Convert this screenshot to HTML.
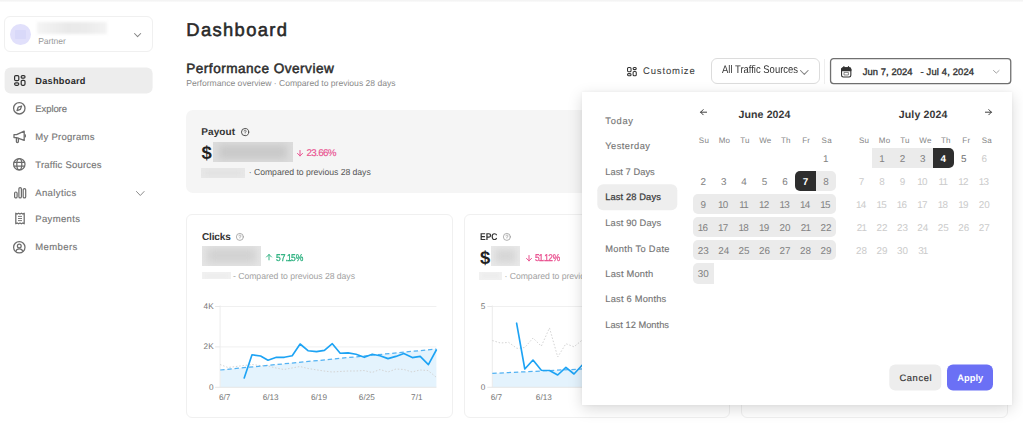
<!DOCTYPE html>
<html><head><meta charset="utf-8"><title>Dashboard</title>
<style>
html,body{margin:0;padding:0;background:#fff;}
body{width:1023px;height:424px;position:relative;overflow:hidden;font-family:'Liberation Sans', sans-serif;text-rendering:geometricPrecision;}
.t{position:absolute;white-space:pre;font-family:'Liberation Sans', sans-serif;}
i.n1{font-style:normal;margin:0 -0.08em 0 -0.1em}
.a{position:absolute;box-sizing:border-box;}
svg{position:absolute;overflow:visible;}

.card{position:absolute;box-sizing:border-box;border:1px solid #f0f0f0;border-radius:6px;background:#fff;}
.blur{position:absolute;filter:blur(1.6px);}
.d{position:absolute;width:20.45px;height:20.4px;line-height:20.4px;text-align:center;font-size:9.9px;color:#828282;font-family:"Liberation Sans",sans-serif;padding-top:1.7px;box-sizing:border-box;}
.d i{font-style:normal;margin:0 -0.75px 0 -0.95px;}
.wd{position:absolute;width:20.45px;height:12px;line-height:12px;text-align:center;font-size:8px;letter-spacing:0.25px;color:#858585;font-family:"Liberation Sans",sans-serif;}
.rg{position:absolute;height:20.4px;background:#ebebeb;}
.sel{position:absolute;height:20.4px;width:20.6px;background:#2e2e2e;}
.ax{position:absolute;font-size:8.2px;line-height:10px;color:#767676;font-family:"Liberation Sans",sans-serif;white-space:pre;}

</style></head><body>
<div class="a" style="left:0;top:0;width:1023px;height:2px;background:linear-gradient(#f3f3f3,#f5f5f5 50%,#fcfcfc)"></div><div class="a" style="left:4px;top:16px;width:149px;height:36px;border:1px solid #f0f0f0;border-radius:6px;background:#fff"></div><div class="a" style="left:10px;top:24px;width:20.8px;height:20.8px;border-radius:50%;background:#e1e0fb"></div><div class="a" style="left:14.6px;top:29.7px;width:11.6px;height:9.2px;border-radius:1px;background:#d9d9f9;filter:blur(0.7px)"></div><div class="blur" style="left:36.8px;top:22.2px;width:70.4px;height:11.8px;background:linear-gradient(90deg,#f4f4f4,#e9e9e9 45%,#ebebeb 70%,#f3f3f3);"></div><svg style="left:133.8px;top:33.0px" width="7.2" height="4.1" viewBox="0 0 7.2 4.1" fill="none" stroke="#858585" stroke-width="1.05" stroke-linecap="round" stroke-linejoin="round"><path d="M0.5 0.5 L3.6 3.5999999999999996 L6.7 0.5"/></svg><div class="a" style="left:4px;top:67px;width:148.2px;height:25.5px;border-radius:6px;background:#ededed;transform:translate(0.6px,0.5px)"></div><svg style="left:14.2px;top:74.9px" width="11.6" height="11.6" viewBox="0 0 11.6 11.6" fill="none" stroke="#303030" stroke-width="1.2"><rect x="0.60" y="0.60" width="4.20" height="5.00" rx="1.20"/><rect x="7.20" y="0.60" width="3.80" height="2.50" rx="1.20"/><rect x="0.60" y="7.80" width="4.20" height="2.50" rx="1.20"/><rect x="7.20" y="5.30" width="3.80" height="5.00" rx="1.20"/></svg><svg style="left:13.2px;top:102.2px" width="12.6" height="12.6" viewBox="0 0 12.6 12.6" fill="none" stroke="#6c6c6c" stroke-width="1.3" stroke-linejoin="round"><circle cx="6.3" cy="6.3" r="5.7"/><path d="M8.6 4.0 L7.4 7.4 L4.0 8.6 L5.2 5.2 Z"/></svg><svg style="left:13px;top:130px" width="13" height="13.5" viewBox="0 0 13 13.5" fill="none" stroke="#6c6c6c" stroke-width="1.3" stroke-linejoin="round" stroke-linecap="round"><path d="M1 4.6 h2.6 L11.2 1.2 V10.4 L3.6 7.6 H1 Z"/><path d="M3.4 7.8 V11.6 a1 1 0 0 0 2 0 V8.5"/><path d="M12.3 4.8 v2"/></svg><svg style="left:13.2px;top:158.2px" width="12.6" height="12.6" viewBox="0 0 12.6 12.6" fill="none" stroke="#6c6c6c" stroke-width="1.25"><circle cx="6.3" cy="6.3" r="5.7"/><ellipse cx="6.3" cy="6.3" rx="2.5" ry="5.7"/><path d="M0.8 4.5 H11.8 M0.8 8.1 H11.8"/></svg><svg style="left:13.7px;top:187.1px" width="12.4" height="12" viewBox="0 0 12.4 12" fill="none" stroke="#6c6c6c" stroke-width="1.2"><rect x="0.6" y="5.0" width="2.5" height="5.9" rx="1.25"/><rect x="4.9" y="0.6" width="2.5" height="10.3" rx="1.25"/><rect x="9.2" y="1.6" width="2.5" height="9.3" rx="1.25"/></svg><svg style="left:135.8px;top:191px" width="8.6" height="5" viewBox="0 0 8.6 5" fill="none" stroke="#8a8a8a" stroke-width="1" stroke-linecap="round" stroke-linejoin="round"><path d="M0.5 0.5 L4.3 4.5 L8.1 0.5"/></svg><svg style="left:14.8px;top:211.8px" width="10" height="13" viewBox="0 0 10 13" fill="none" stroke="#6c6c6c" stroke-width="1.25" stroke-linejoin="round"><path d="M0.8 1.2 l1.4 0.8 1.4 -0.8 1.4 0.8 1.4 -0.8 1.4 0.8 1.4 -0.8 V11.8 l-1.4 -0.8 -1.4 0.8 -1.4 -0.8 -1.4 0.8 -1.4 -0.8 -1.4 0.8 Z"/><path d="M3 4.4 H7 M3 6.5 H7 M3 8.6 H7" stroke-width="0.9"/></svg><svg style="left:13.2px;top:240.5px" width="12.6" height="12.6" viewBox="0 0 12.6 12.6" fill="none" stroke="#6c6c6c" stroke-width="1.25"><circle cx="6.3" cy="6.3" r="5.7"/><circle cx="6.3" cy="5.1" r="1.9"/><path d="M2.8 10.6 a3.6 3.6 0 0 1 7 0"/></svg><div class="a" style="left:185.8px;top:110px;width:823px;height:83.2px;border-radius:7px;background:#f5f5f5"></div><svg style="left:240.7px;top:127.9px" width="8.2" height="8.2" viewBox="0 0 8.2 8.2" fill="none" stroke="#484848" stroke-width="0.95" stroke-linecap="round"><circle cx="4.1" cy="4.1" r="3.6249999999999996"/><path d="M3.0999999999999996 3.1999999999999997 a1.05 1.05 0 1 1 1.0 1.05 v0.7" stroke-width="0.65"/><circle cx="4.1" cy="6.0" r="0.3" fill="#484848" stroke="none"/></svg><div class="a" style="left:213.4px;top:142.1px;width:79.6px;height:19.6px;background:#dcdcdc;overflow:hidden"><div class="a" style="left:6px;top:3px;right:6px;bottom:3px;background:#c9c9c9;filter:blur(3.6px)"></div></div><div class="a" style="left:201.2px;top:168.1px;width:43.8px;height:10.2px;background:#e8e8e8;overflow:hidden"><div class="a" style="left:4px;top:2px;right:4px;bottom:2px;background:#e2e2e2;filter:blur(2px)"></div></div><div class="card" style="left:186.2px;top:214px;width:266.8px;height:204px"></div><div class="card" style="left:463.6px;top:214px;width:266.8px;height:204px"></div><div class="card" style="left:741.2px;top:214px;width:266.8px;height:204px"></div><svg style="left:236.2px;top:232.8px" width="7.8" height="7.8" viewBox="0 0 7.8 7.8" fill="none" stroke="#9a9a9a" stroke-width="0.8" stroke-linecap="round"><circle cx="3.9" cy="3.9" r="3.5"/><path d="M2.9 3.0 a1.05 1.05 0 1 1 1.0 1.05 v0.7" stroke-width="0.65"/><circle cx="3.9" cy="5.8" r="0.3" fill="#9a9a9a" stroke="none"/></svg><svg style="left:502.6px;top:232.8px" width="7.8" height="7.8" viewBox="0 0 7.8 7.8" fill="none" stroke="#9a9a9a" stroke-width="0.8" stroke-linecap="round"><circle cx="3.9" cy="3.9" r="3.5"/><path d="M2.9 3.0 a1.05 1.05 0 1 1 1.0 1.05 v0.7" stroke-width="0.65"/><circle cx="3.9" cy="5.8" r="0.3" fill="#9a9a9a" stroke="none"/></svg><div class="a" style="left:202.0px;top:245.8px;width:59.3px;height:20.2px;background:#e5e5e5;overflow:hidden"><div class="a" style="left:5px;top:2.5px;right:5px;bottom:2.5px;background:#d1d1d1;filter:blur(4px)"></div></div><div class="a" style="left:202.0px;top:272.0px;width:28.6px;height:7.4px;background:#f1f1f1;overflow:hidden"><div class="a" style="left:3px;top:1.5px;right:3px;bottom:1.5px;background:#ededed;filter:blur(1.5px)"></div></div><div class="a" style="left:491.3px;top:246.0px;width:28.7px;height:19.5px;background:#e9e9e9;overflow:hidden"><div class="a" style="left:4px;top:2.5px;right:4px;bottom:2.5px;background:#d6d6d6;filter:blur(3.6px)"></div></div><div class="a" style="left:479.3px;top:271.8px;width:23.2px;height:8px;background:#f1f1f1;overflow:hidden"><div class="a" style="left:3px;top:1.5px;right:3px;bottom:1.5px;background:#ededed;filter:blur(1.5px)"></div></div><svg style="left:296.9px;top:149.70000000000002px" width="6" height="6.4" viewBox="0 0 6 6.4" fill="none" stroke="#e8488a" stroke-width="0.95" stroke-linecap="round" stroke-linejoin="round"><path d="M3 0.5 V5.9 M0.5 3.4 L3 5.9 L5.5 3.4"/></svg><svg style="left:266.3px;top:254.2px" width="6" height="6.4" viewBox="0 0 6 6.4" fill="none" stroke="#2bb07f" stroke-width="0.95" stroke-linecap="round" stroke-linejoin="round"><path d="M3 0.5 V5.9 M0.5 3.4 L3 5.9 L5.5 3.4" transform="rotate(180 3 3.2)"/></svg><svg style="left:525.5px;top:254.5px" width="6" height="6.4" viewBox="0 0 6 6.4" fill="none" stroke="#e8488a" stroke-width="0.95" stroke-linecap="round" stroke-linejoin="round"><path d="M3 0.5 V5.9 M0.5 3.4 L3 5.9 L5.5 3.4"/></svg><svg style="left:0;top:0" width="1023" height="424" viewBox="0 0 1023 424" fill="none"><path d="M220.1 306.5 H436.4" stroke="#f0f0f0" stroke-width="1"/><path d="M220.1 346.9 H436.4" stroke="#f0f0f0" stroke-width="1"/><path d="M220.2 370 L436.4 349 L436.4 387.3 L220.2 387.3 Z" fill="#e4f3fd"/><path d="M220.1 305.5 V387.3" stroke="#ececec" stroke-width="1"/><path d="M215.1 387.3 H436.4" stroke="#e6e6e6" stroke-width="1"/><path d="M215.1 306.5 H220.1" stroke="#e8e8e8" stroke-width="1"/><path d="M215.1 346.9 H220.1" stroke="#e8e8e8" stroke-width="1"/><path d="M220.0 364.5 L228.0 367.5 L236.0 366.5 L244.0 365.5 L252.0 364.5 L260.0 365.5 L268.0 366.0 L276.0 368.0 L284.0 369.5 L292.0 368.0 L300.0 366.5 L308.0 368.5 L316.0 369.8 L324.0 371.0 L332.0 372.0 L340.0 371.5 L348.0 371.0 L356.0 371.0 L364.0 370.5 L372.0 372.5 L380.0 369.5 L388.0 372.0 L396.0 369.0 L404.0 369.5 L412.0 372.0 L420.0 370.0 L428.0 370.5 L436.0 377.0" stroke="#d4d4d4" stroke-width="1" stroke-dasharray="1.5 1.8"/><path d="M220.2 370 L436.4 349" stroke="#52b2f3" stroke-width="1.25" stroke-dasharray="4.4 2.8"/><path d="M244.2 377.9 L252.0 354.8 L260.6 356.0 L268.0 360.2 L276.4 357.3 L284.3 357.3 L292.2 355.7 L300.1 344.0 L308.0 350.7 L316.5 351.6 L324.4 350.4 L332.3 343.7 L340.2 353.2 L348.1 352.9 L356.0 354.2 L364.3 357.3 L372.2 354.2 L380.0 355.7 L388.0 358.6 L395.9 356.4 L403.8 353.5 L412.3 357.6 L420.2 356.4 L428.4 364.6 L436.3 350.0" stroke="#1da3f4" stroke-width="1.65" stroke-linejoin="round" stroke-linecap="round"/></svg><span class="ax" style="right:809.4px;top:301.5px">4K</span><span class="ax" style="right:809.4px;top:342.29999999999995px">2K</span><span class="ax" style="right:809.4px;top:382.9px">0</span><span class="ax" style="left:209.7px;width:30px;text-align:center;top:392.79999999999995px">6/7</span><span class="ax" style="left:255.7px;width:30px;text-align:center;top:392.79999999999995px">6/13</span><span class="ax" style="left:304px;width:30px;text-align:center;top:392.79999999999995px">6/19</span><span class="ax" style="left:351.8px;width:30px;text-align:center;top:392.79999999999995px">6/25</span><span class="ax" style="left:401.8px;width:30px;text-align:center;top:392.79999999999995px">7/1</span><svg style="left:0;top:0" width="1023" height="424" viewBox="0 0 1023 424" fill="none"><path d="M492.3 306.5 H713.8" stroke="#f0f0f0" stroke-width="1"/><path d="M492.3 373.4 L713.8 362.5 L713.8 387.3 L492.3 387.3 Z" fill="#e4f3fd"/><path d="M492.3 305.5 V387.3" stroke="#ececec" stroke-width="1"/><path d="M487.3 387.3 H713.8" stroke="#e6e6e6" stroke-width="1"/><path d="M487.3 306.5 H492.3" stroke="#e8e8e8" stroke-width="1"/><path d="M492.3 340.5 L500.5 343.0 L508.7 342.4 L516.9 348.4 L524.8 347.5 L533.0 338.0 L541.3 346.2 L549.5 327.9 L557.7 357.0 L565.9 343.7 L574.0 346.8 L582.3 340.0 L590.5 345.0 L600.0 342.0 L610.0 348.0 L620.0 340.0 L640.0 345.0 L660.0 341.0 L680.0 346.0 L713.6 342.0" stroke="#d4d4d4" stroke-width="1" stroke-dasharray="1.5 1.8"/><path d="M492.3 373.4 L713.8 362.5" stroke="#52b2f3" stroke-width="1.25" stroke-dasharray="4.4 2.8"/><path d="M516.6 323.2 L524.8 369.0 L533.0 360.0 L541.3 370.2 L549.5 370.5 L557.7 375.0 L565.9 367.4 L574.0 374.0 L582.3 365.0 L590.5 368.0 L598.7 372.0 L607.0 366.0 L615.0 370.0 L623.4 367.0 L631.6 371.0 L640.0 365.0 L648.0 369.0 L656.2 366.0 L664.4 370.0 L672.6 364.0 L680.8 368.0 L689.0 366.0 L697.2 369.0 L705.4 363.0 L713.6 366.0" stroke="#1da3f4" stroke-width="1.65" stroke-linejoin="round" stroke-linecap="round"/></svg><span class="ax" style="right:537.6px;top:301.5px">5</span><span class="ax" style="right:537.6px;top:382.9px">0</span><span class="ax" style="left:481.4px;width:30px;text-align:center;top:392.79999999999995px">6/7</span><span class="ax" style="left:528.8px;width:30px;text-align:center;top:392.79999999999995px">6/13</span><span class="ax" style="left:578px;width:30px;text-align:center;top:392.79999999999995px">6/19</span><span class="ax" style="left:627px;width:30px;text-align:center;top:392.79999999999995px">6/25</span><span class="ax" style="left:678px;width:30px;text-align:center;top:392.79999999999995px">7/1</span><svg style="left:627.3px;top:66.5px" width="9.8" height="9.8" viewBox="0 0 9.8 9.8" fill="none" stroke="#333" stroke-width="1.05"><rect x="0.53" y="0.53" width="3.51" height="4.19" rx="1.01"/><rect x="6.10" y="0.53" width="3.17" height="2.08" rx="1.01"/><rect x="0.53" y="6.61" width="3.51" height="2.08" rx="1.01"/><rect x="6.10" y="4.50" width="3.17" height="4.19" rx="1.01"/></svg><div class="a" style="left:711px;top:58px;width:109px;height:26px;border:1px solid #dcdcdc;border-radius:6px;background:#fff"></div><svg style="left:800.2px;top:69.5px" width="8.6" height="4.9" viewBox="0 0 8.6 4.9" fill="none" stroke="#858585" stroke-width="1.05" stroke-linecap="round" stroke-linejoin="round"><path d="M0.5 0.5 L4.3 4.4 L8.1 0.5"/></svg><div class="a" style="left:824.3px;top:58.5px;width:1px;height:25px;background:#eeeeee"></div><svg style="left:829px;top:57px" width="184" height="28" viewBox="0 0 184 28" fill="none"><rect x="1.55" y="1.65" width="180.2" height="24.9" rx="3" fill="#fff" stroke="#707070" stroke-width="1.3"/></svg><svg style="left:841.3px;top:65.5px" width="10.4" height="11.6" viewBox="0 0 10.4 11.6" fill="none" stroke="#333" stroke-width="1.1" stroke-linejoin="round"><rect x="0.55" y="1.9" width="9.3" height="9.1" rx="1.7"/><path d="M0.55 4.6 V3.6 a1.7 1.7 0 0 1 1.7 -1.7 H8.15 a1.7 1.7 0 0 1 1.7 1.7 V4.6 Z" fill="#333"/><path d="M2.9 0.55 V2.2 M7.5 0.55 V2.2" stroke-linecap="round" stroke-width="1.2"/><rect x="3.0" y="6.4" width="4.4" height="2.6" stroke-width="0.7" stroke="#555"/></svg><svg style="left:993.2px;top:69.6px" width="6.6" height="3.6" viewBox="0 0 6.6 3.6" fill="none" stroke="#999" stroke-width="0.9" stroke-linecap="round" stroke-linejoin="round"><path d="M0.5 0.5 L3.3 3.1 L6.1 0.5"/></svg>
<span class="t" style="left:38.25px;top:34.80px;font-size:8.6px;line-height:13px;color:#9a9a9a;letter-spacing:-0.115px;">Partner</span><span class="t" style="left:35.25px;top:73.60px;font-size:9.2px;line-height:14px;color:#2b2b2b;letter-spacing:0.281px;font-weight:700;">Dashboard</span><span class="t" style="left:35.25px;top:102.60px;font-size:9.5px;line-height:14px;color:#767676;letter-spacing:-0.078px;-webkit-text-stroke:0.15px #767676;">Explore</span><span class="t" style="left:35.25px;top:130.70px;font-size:9.5px;line-height:14px;color:#767676;letter-spacing:0.277px;-webkit-text-stroke:0.15px #767676;">My Programs</span><span class="t" style="left:35.25px;top:158.50px;font-size:9.5px;line-height:14px;color:#767676;letter-spacing:0.206px;-webkit-text-stroke:0.15px #767676;">Traffic Sources</span><span class="t" style="left:35.25px;top:186.80px;font-size:9.5px;line-height:14px;color:#767676;letter-spacing:0.373px;-webkit-text-stroke:0.15px #767676;">Analytics</span><span class="t" style="left:35.25px;top:212.60px;font-size:9.5px;line-height:14px;color:#767676;letter-spacing:0.357px;-webkit-text-stroke:0.15px #767676;">Payments</span><span class="t" style="left:35.25px;top:241.00px;font-size:9.5px;line-height:14px;color:#767676;letter-spacing:0.401px;-webkit-text-stroke:0.15px #767676;">Members</span><span class="t" style="left:186.25px;top:16.80px;font-size:18.4px;line-height:26px;color:#2a2a2a;letter-spacing:1.348px;-webkit-text-stroke:0.55px #2a2a2a;">Dashboard</span><span class="t" style="left:186.25px;top:58.70px;font-size:13.6px;line-height:20px;color:#2d2d2d;letter-spacing:0.487px;-webkit-text-stroke:0.5px #2d2d2d;">Performance Overview</span><span class="t" style="left:186.25px;top:77.10px;font-size:8.6px;line-height:13px;color:#8a8a8a;letter-spacing:-0.018px;">Performance overview · Compared to previous 28 days</span><span class="t" style="left:201.25px;top:125.10px;font-size:10px;line-height:15px;color:#333;letter-spacing:0.081px;font-weight:700;">Payout</span><span class="t" style="left:201.50px;top:140.10px;font-size:18.5px;line-height:26px;color:#222;letter-spacing:-0.297px;font-weight:700;">$</span><span class="t" style="left:306.40px;top:145.80px;font-size:9.8px;line-height:15px;color:#e9508f;letter-spacing:-0.607px;-webkit-text-stroke:0.15px #e9508f;">23.66%</span><span class="t" style="left:248.75px;top:166.10px;font-size:8.7px;line-height:13px;color:#555;letter-spacing:-0.056px;">· Compared to previous 28 days</span><span class="t" style="left:202.00px;top:229.90px;font-size:10px;line-height:15px;color:#333;letter-spacing:-0.144px;font-weight:700;">Clicks</span><span class="t" style="left:275.60px;top:250.50px;font-size:9.8px;line-height:15px;color:#2bb07f;letter-spacing:0.000px;-webkit-text-stroke:0.3px #2bb07f;transform:scaleX(0.8698);transform-origin:0 50%;">57.<i class="n1">1</i>5%</span><span class="t" style="left:233.00px;top:269.80px;font-size:8.7px;line-height:13px;color:#a2a2a2;letter-spacing:-0.056px;">- Compared to previous 28 days</span><span class="t" style="left:479.50px;top:229.90px;font-size:9.8px;line-height:15px;color:#333;letter-spacing:0.000px;font-weight:700;transform:scaleX(0.8682);transform-origin:0 50%;">EPC</span><span class="t" style="left:480.00px;top:245.00px;font-size:18.4px;line-height:26px;color:#222;letter-spacing:-0.734px;font-weight:700;">$</span><span class="t" style="left:534.80px;top:250.70px;font-size:9.8px;line-height:15px;color:#e9508f;letter-spacing:0.000px;-webkit-text-stroke:0.3px #e9508f;transform:scaleX(0.8466);transform-origin:0 50%;">5<i class="n1">1</i>.<i class="n1">1</i>2%</span><span class="t" style="left:504.50px;top:269.80px;font-size:8.7px;line-height:13px;color:#a2a2a2;letter-spacing:-0.056px;">· Compared to previous 28 days</span><span class="t" style="left:643.00px;top:65.10px;font-size:9.5px;line-height:14px;color:#3a3a3a;letter-spacing:0.859px;-webkit-text-stroke:0.05px #3a3a3a;">Customize</span><span class="t" style="left:722.00px;top:62.10px;font-size:11px;line-height:16px;color:#333;letter-spacing:0.000px;transform:scaleX(0.8592);transform-origin:0 50%;">All Traffic Sources</span><span class="t" style="left:862.70px;top:65.30px;font-size:9.4px;line-height:14px;color:#333;letter-spacing:0.080px;-webkit-text-stroke:0.35px #333;">Jun 7, 2024</span><span class="t" style="left:920.50px;top:65.30px;font-size:9.4px;line-height:14px;color:#333;letter-spacing:0.158px;-webkit-text-stroke:0.35px #333;">- Jul 4, 2024</span>

<div class="a" style="left:582.3px;top:92.3px;width:430.2px;height:313.2px;background:#fff;box-shadow:0 4px 14px rgba(0,0,0,0.15),0 0 3px rgba(0,0,0,0.05)"></div><div class="a" style="left:597px;top:184px;width:80.4px;height:25.6px;border-radius:6px;background:#eeeeee;transform:translate(0.3px,0.3px)"></div>
<span class="t" style="left:605.25px;top:113.90px;font-size:9.3px;line-height:14px;color:#747474;letter-spacing:0.734px;-webkit-text-stroke:0.13px #747474;">Today</span><span class="t" style="left:605.25px;top:139.00px;font-size:9.3px;line-height:14px;color:#747474;letter-spacing:0.467px;-webkit-text-stroke:0.13px #747474;">Yesterday</span><span class="t" style="left:605.25px;top:164.80px;font-size:9.3px;line-height:14px;color:#747474;letter-spacing:0.041px;-webkit-text-stroke:0.13px #747474;">Last 7 Days</span><span class="t" style="left:605.25px;top:190.20px;font-size:9.3px;line-height:14px;color:#3c3c3c;letter-spacing:0.117px;-webkit-text-stroke:0.25px #3c3c3c;">Last 28 Days</span><span class="t" style="left:605.25px;top:216.00px;font-size:9.3px;line-height:14px;color:#747474;letter-spacing:0.158px;-webkit-text-stroke:0.13px #747474;">Last 90 Days</span><span class="t" style="left:605.25px;top:241.50px;font-size:9.3px;line-height:14px;color:#747474;letter-spacing:0.329px;-webkit-text-stroke:0.13px #747474;">Month To Date</span><span class="t" style="left:605.25px;top:266.80px;font-size:9.3px;line-height:14px;color:#747474;letter-spacing:0.222px;-webkit-text-stroke:0.13px #747474;">Last Month</span><span class="t" style="left:605.25px;top:292.30px;font-size:9.3px;line-height:14px;color:#747474;letter-spacing:0.216px;-webkit-text-stroke:0.13px #747474;">Last 6 Months</span><span class="t" style="left:605.25px;top:318.00px;font-size:9.3px;line-height:14px;color:#747474;letter-spacing:0.013px;-webkit-text-stroke:0.13px #747474;">Last 12 Months</span><span class="t" style="left:738.50px;top:106.60px;font-size:10.6px;line-height:16px;color:#383838;letter-spacing:0.094px;font-weight:700;">June 2024</span><span class="t" style="left:898.75px;top:106.60px;font-size:10.6px;line-height:16px;color:#383838;letter-spacing:0.129px;font-weight:700;">July 2024</span>
<svg style="left:699.6px;top:109.3px" width="7" height="6.4" viewBox="0 0 7 6.4" fill="none" stroke="#333" stroke-width="0.95" stroke-linecap="round" stroke-linejoin="round"><path d="M6.6 3.2 H0.6 M3.2 0.6 L0.6 3.2 L3.2 5.8"/></svg><svg style="left:984.7px;top:109.3px" width="7" height="6.4" viewBox="0 0 7 6.4" fill="none" stroke="#333" stroke-width="0.95" stroke-linecap="round" stroke-linejoin="round"><path d="M0.4 3.2 H6.4 M3.8 0.6 L6.4 3.2 L3.8 5.8"/></svg><span class="wd" style="left:693.80px;top:134.5px">Su</span><span class="wd" style="left:853.90px;top:134.5px">Su</span><span class="wd" style="left:714.25px;top:134.5px">Mo</span><span class="wd" style="left:874.35px;top:134.5px">Mo</span><span class="wd" style="left:734.70px;top:134.5px">Tu</span><span class="wd" style="left:894.80px;top:134.5px">Tu</span><span class="wd" style="left:755.15px;top:134.5px">We</span><span class="wd" style="left:915.25px;top:134.5px">We</span><span class="wd" style="left:775.60px;top:134.5px">Th</span><span class="wd" style="left:935.70px;top:134.5px">Th</span><span class="wd" style="left:796.05px;top:134.5px">Fr</span><span class="wd" style="left:956.15px;top:134.5px">Fr</span><span class="wd" style="left:816.50px;top:134.5px">Sa</span><span class="wd" style="left:976.60px;top:134.5px">Sa</span><div class="rg" style="left:815.70px;top:171.1px;width:20.65px;border-radius:0 5px 5px 0"></div><div class="rg" style="left:693.0px;top:194.1px;width:143.35px;border-radius:5px"></div><div class="rg" style="left:693.0px;top:217.1px;width:143.35px;border-radius:5px"></div><div class="rg" style="left:693.0px;top:240.1px;width:143.35px;border-radius:5px"></div><div class="rg" style="left:693.0px;top:263.2px;width:20.75px;border-radius:5px 0 0 5px"></div><div class="sel" style="left:795.25px;top:171.1px;border-radius:5px 0 0 5px"></div><div class="rg" style="left:871.75px;top:148px;width:61.35px"></div><div class="sel" style="left:933.10px;top:148px;border-radius:0 5px 5px 0"></div><span class="d" style="left:815.70px;top:148px;"><i>1</i></span><span class="d" style="left:693.00px;top:171.1px;">2</span><span class="d" style="left:713.45px;top:171.1px;">3</span><span class="d" style="left:733.90px;top:171.1px;">4</span><span class="d" style="left:754.35px;top:171.1px;">5</span><span class="d" style="left:774.80px;top:171.1px;">6</span><span class="d" style="left:795.25px;top:171.1px;color:#fff;font-weight:700;-webkit-text-stroke:0;">7</span><span class="d" style="left:815.70px;top:171.1px;">8</span><span class="d" style="left:693.00px;top:194.1px;">9</span><span class="d" style="left:713.45px;top:194.1px;"><i>1</i>0</span><span class="d" style="left:733.90px;top:194.1px;"><i>1</i><i>1</i></span><span class="d" style="left:754.35px;top:194.1px;"><i>1</i>2</span><span class="d" style="left:774.80px;top:194.1px;"><i>1</i>3</span><span class="d" style="left:795.25px;top:194.1px;"><i>1</i>4</span><span class="d" style="left:815.70px;top:194.1px;"><i>1</i>5</span><span class="d" style="left:693.00px;top:217.1px;"><i>1</i>6</span><span class="d" style="left:713.45px;top:217.1px;"><i>1</i>7</span><span class="d" style="left:733.90px;top:217.1px;"><i>1</i>8</span><span class="d" style="left:754.35px;top:217.1px;"><i>1</i>9</span><span class="d" style="left:774.80px;top:217.1px;">20</span><span class="d" style="left:795.25px;top:217.1px;">2<i>1</i></span><span class="d" style="left:815.70px;top:217.1px;">22</span><span class="d" style="left:693.00px;top:240.1px;">23</span><span class="d" style="left:713.45px;top:240.1px;">24</span><span class="d" style="left:733.90px;top:240.1px;">25</span><span class="d" style="left:754.35px;top:240.1px;">26</span><span class="d" style="left:774.80px;top:240.1px;">27</span><span class="d" style="left:795.25px;top:240.1px;">28</span><span class="d" style="left:815.70px;top:240.1px;">29</span><span class="d" style="left:693.00px;top:263.2px;">30</span><span class="d" style="left:871.75px;top:148px;"><i>1</i></span><span class="d" style="left:892.20px;top:148px;">2</span><span class="d" style="left:912.65px;top:148px;">3</span><span class="d" style="left:933.10px;top:148px;color:#fff;font-weight:700;-webkit-text-stroke:0;">4</span><span class="d" style="left:953.55px;top:148px;color:#6c6c6c;">5</span><span class="d" style="left:974.00px;top:148px;color:#cbcbcb;">6</span><span class="d" style="left:851.30px;top:171.1px;color:#cbcbcb;">7</span><span class="d" style="left:871.75px;top:171.1px;color:#cbcbcb;">8</span><span class="d" style="left:892.20px;top:171.1px;color:#cbcbcb;">9</span><span class="d" style="left:912.65px;top:171.1px;color:#cbcbcb;"><i>1</i>0</span><span class="d" style="left:933.10px;top:171.1px;color:#cbcbcb;"><i>1</i><i>1</i></span><span class="d" style="left:953.55px;top:171.1px;color:#cbcbcb;"><i>1</i>2</span><span class="d" style="left:974.00px;top:171.1px;color:#cbcbcb;"><i>1</i>3</span><span class="d" style="left:851.30px;top:194.1px;color:#cbcbcb;"><i>1</i>4</span><span class="d" style="left:871.75px;top:194.1px;color:#cbcbcb;"><i>1</i>5</span><span class="d" style="left:892.20px;top:194.1px;color:#cbcbcb;"><i>1</i>6</span><span class="d" style="left:912.65px;top:194.1px;color:#cbcbcb;"><i>1</i>7</span><span class="d" style="left:933.10px;top:194.1px;color:#cbcbcb;"><i>1</i>8</span><span class="d" style="left:953.55px;top:194.1px;color:#cbcbcb;"><i>1</i>9</span><span class="d" style="left:974.00px;top:194.1px;color:#cbcbcb;">20</span><span class="d" style="left:851.30px;top:217.1px;color:#cbcbcb;">2<i>1</i></span><span class="d" style="left:871.75px;top:217.1px;color:#cbcbcb;">22</span><span class="d" style="left:892.20px;top:217.1px;color:#cbcbcb;">23</span><span class="d" style="left:912.65px;top:217.1px;color:#cbcbcb;">24</span><span class="d" style="left:933.10px;top:217.1px;color:#cbcbcb;">25</span><span class="d" style="left:953.55px;top:217.1px;color:#cbcbcb;">26</span><span class="d" style="left:974.00px;top:217.1px;color:#cbcbcb;">27</span><span class="d" style="left:851.30px;top:240.1px;color:#cbcbcb;">28</span><span class="d" style="left:871.75px;top:240.1px;color:#cbcbcb;">29</span><span class="d" style="left:892.20px;top:240.1px;color:#cbcbcb;">30</span><span class="d" style="left:912.65px;top:240.1px;color:#cbcbcb;">3<i>1</i></span><div class="a" style="left:889px;top:364px;width:52.4px;height:25.5px;border-radius:6px;background:#ededed;transform:translate(0.3px,0.6px)"></div><div class="a" style="left:947px;top:364px;width:46.3px;height:25.5px;border-radius:6px;background:#6b70f5;transform:translate(0,0.6px)"></div>
<span class="t" style="left:899.50px;top:370.60px;font-size:9.3px;line-height:14px;color:#333;letter-spacing:0.609px;-webkit-text-stroke:0.18px #333;">Cancel</span><span class="t" style="left:957.25px;top:370.60px;font-size:9.3px;line-height:14px;color:#fff;letter-spacing:0.043px;font-weight:700;">Apply</span>

</body></html>
